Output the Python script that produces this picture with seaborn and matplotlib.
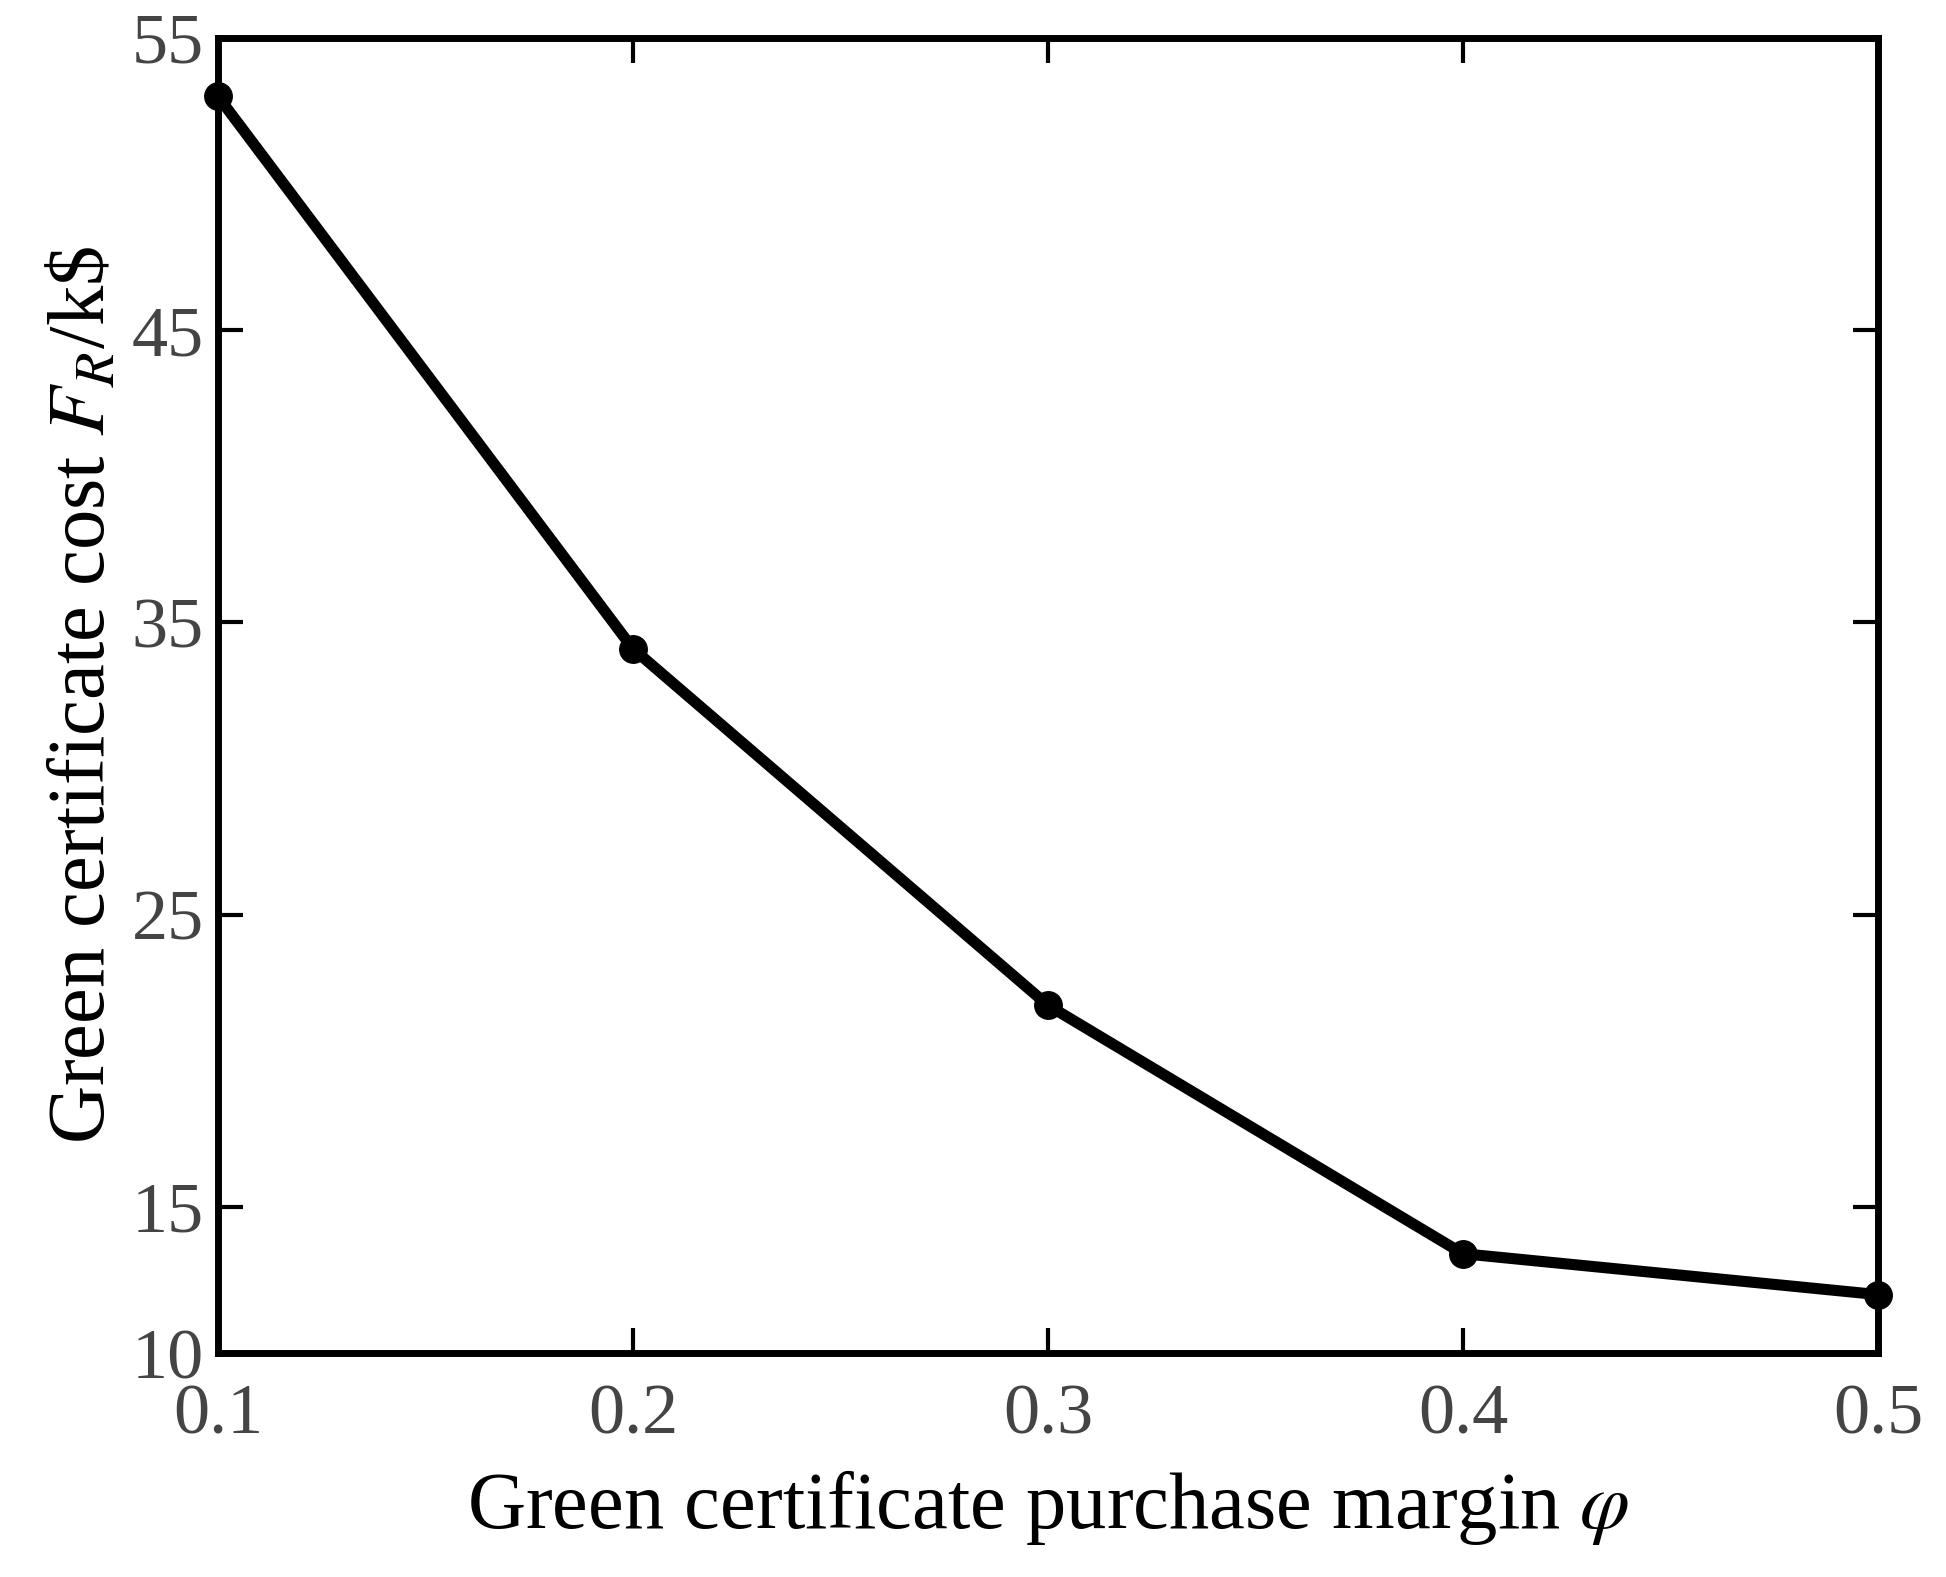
import matplotlib
matplotlib.use('Agg')
import matplotlib.pyplot as plt
import seaborn as sns
import pandas as pd

margin = [0.1, 0.2, 0.3, 0.4, 0.5]
cost = [53.0, 34.1, 21.9, 13.4, 12.0]
yticks = [10, 15, 25, 35, 45, 55]

sns.set_style('ticks')
plt.rcParams['font.family'] = ['Liberation Serif', 'DejaVu Serif']
plt.rcParams['mathtext.fontset'] = 'stix'

fig = plt.figure(figsize=(19.46, 15.77), dpi=100)
ax = fig.add_axes([0.112, 0.142, 0.853, 0.834])
df = pd.DataFrame({'m': margin, 'c': cost})
sns.lineplot(data=df, x='m', y='c', ax=ax, color='black', linewidth=8,
             marker='o', markersize=20, markeredgecolor='black', clip_on=False)
ax.set_xlim(0.1, 0.5)
ax.set_ylim(10, 55)
ax.set_xticks(margin)
ax.set_xticklabels(['0.1', '0.2', '0.3', '0.4', '0.5'])
ax.set_yticks(yticks)
ax.tick_params(direction='in', length=18, width=3, labelsize=52, colors='black',
               labelcolor='#444444', top=True, right=True)
ax.tick_params(axis='y', pad=10)
ax.tick_params(axis='x', pad=22)
for s in ax.spines.values():
    s.set_linewidth(5)
    s.set_color('black')
ax.set_xlabel(r'Green certificate purchase margin $\varphi$', fontsize=58,
              labelpad=14, color='black')
ax.set_ylabel(r'Green certificate cost $F_R$/k\$', fontsize=58, labelpad=8,
              color='black')
fig.savefig('out.png', dpi=100)
